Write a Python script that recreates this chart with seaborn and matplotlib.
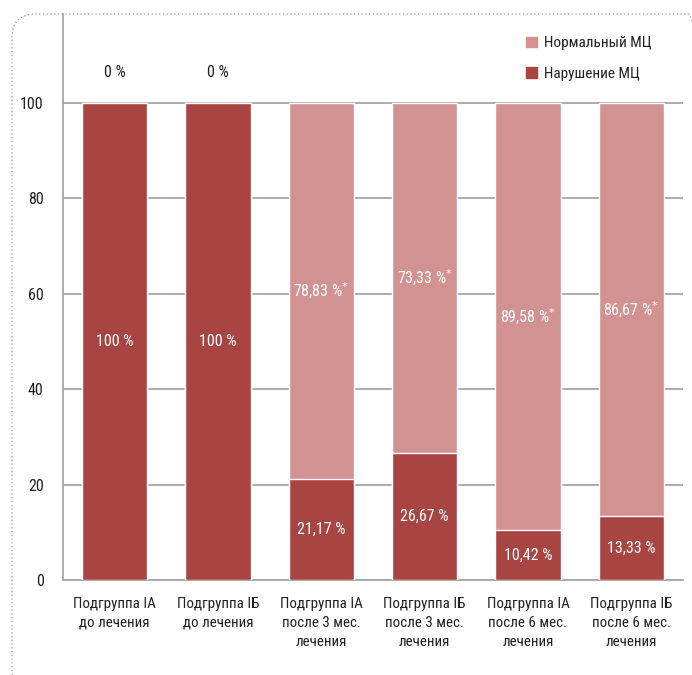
import matplotlib
matplotlib.use("Agg")
import matplotlib.pyplot as plt
from matplotlib import font_manager
from matplotlib.patches import FancyBboxPatch, Patch
import pandas as pd
import seaborn as sns

categories = [
    "Подгруппа IA\nдо лечения",
    "Подгруппа IБ\nдо лечения",
    "Подгруппа IA\nпосле 3 мес.\nлечения",
    "Подгруппа IБ\nпосле 3 мес.\nлечения",
    "Подгруппа IA\nпосле 6 мес.\nлечения",
    "Подгруппа IБ\nпосле 6 мес.\nлечения",
]
disturbed = [100, 100, 21.17, 26.67, 10.42, 13.33]
normal = [0, 0, 78.83, 73.33, 89.58, 86.67]
disturbed_labels = ["100 %", "100 %", "21,17 %", "26,67 %", "10,42 %", "13,33 %"]
normal_labels = ["0 %", "0 %", "78,83 %", "73,33 %", "89,58 %", "86,67 %"]
starred = [False, False, True, True, True, True]

DARK = "#A84442"
LIGHT = "#D39292"
TEXT = "#231F20"
GRID = "#A6A6A6"

sns.set_style("white")
available = {f.name for f in font_manager.fontManager.ttflist}
family = "DejaVu Sans"
for cand in ["Liberation Sans Narrow", "Roboto Condensed", "Open Sans Condensed", "Roboto"]:
    if cand in available:
        family = cand
        break
plt.rcParams["font.family"] = [family, "DejaVu Sans"]

df = pd.DataFrame({"cat": categories, "disturbed": disturbed, "normal": normal})
df["total"] = df["disturbed"] + df["normal"]

fig = plt.figure(figsize=(6.92, 6.75), dpi=100)
ax = fig.add_axes([63 / 692, 1 - 580 / 675, 620 / 692, 566 / 675])

sns.barplot(data=df, x="cat", y="total", color=LIGHT, width=0.63,
            saturation=1, ax=ax, zorder=2)
sns.barplot(data=df, x="cat", y="disturbed", color=DARK, width=0.63,
            saturation=1, ax=ax, zorder=3)

ax.set_ylim(0, 118.6)
ax.set_xlim(-0.5, len(categories) - 0.5)
ax.set_yticks(range(0, 101, 20))
ax.yaxis.grid(True, color=GRID, linewidth=1.3, zorder=0)
ax.set_axisbelow(True)
ax.set_xlabel("")
ax.set_ylabel("")
for s in ["top", "right"]:
    ax.spines[s].set_visible(False)
for s in ["left", "bottom"]:
    ax.spines[s].set_color(GRID)
    ax.spines[s].set_linewidth(1.3)

ax.tick_params(axis="y", length=6, color=GRID, width=1.3, labelsize=11.5,
               labelcolor=TEXT, pad=8)
ax.tick_params(axis="x", which="major", length=0, labelsize=10.8,
               labelcolor=TEXT, pad=12)
ax.set_xticks([i - 0.5 for i in range(len(categories) + 1)], minor=True)
ax.tick_params(axis="x", which="minor", length=6, color=GRID, width=1.3)
ax.set_xticklabels(categories, linespacing=1.45)

for i in range(len(categories)):
    d, n = disturbed[i], normal[i]
    ax.text(i, d / 2, disturbed_labels[i], ha="center", va="center",
            color="white", fontsize=11.5, zorder=5)
    star = "$^{*}$" if starred[i] else ""
    if n > 0:
        ax.text(i, d + n / 2, normal_labels[i] + star, ha="center",
                va="center", color="white", fontsize=11.5, zorder=5)
    else:
        ax.text(i, 106.3, normal_labels[i], ha="center", va="center",
                color=TEXT, fontsize=11.5, zorder=5)

handles = [Patch(color=LIGHT, label="Нормальный МЦ"),
           Patch(color=DARK, label="Нарушение МЦ")]
leg = ax.legend(handles=handles, loc="upper right", frameon=False,
                bbox_to_anchor=(0.972, 0.985), handlelength=0.7,
                handleheight=0.7, handletextpad=0.5, labelspacing=1.1,
                fontsize=11)
for t in leg.get_texts():
    t.set_color(TEXT)

border = FancyBboxPatch((12 / 692, -20 / 675), 700 / 692, (661 + 20) / 675,
                        boxstyle="round,pad=0,rounding_size=0.035",
                        transform=fig.transFigure, fill=False,
                        edgecolor="#9A9A9A", linestyle=(0, (1, 2)),
                        linewidth=0.9, clip_on=False)
fig.patches.append(border)

fig.savefig("out.png", dpi=100)
